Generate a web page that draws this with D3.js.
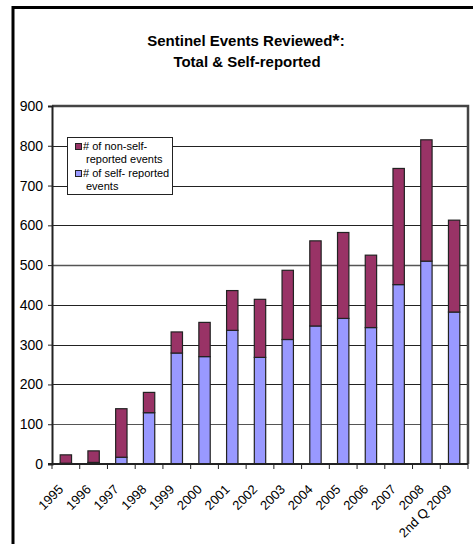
<!DOCTYPE html>
<html><head><meta charset="utf-8">
<script src="https://cdn.jsdelivr.net/npm/d3@7"></script>
<style>body{margin:0;background:#fff}svg{display:block}text{font-family:"Liberation Sans",Arial,sans-serif}</style>
</head><body>
<svg id="c" width="473" height="544"></svg>
<script>
const categories = ["1995","1996","1997","1998","1999","2000","2001","2002","2003","2004","2005","2006","2007","2008","2nd Q 2009"];
const selfReported = [2,4,17,129,279,270,336,268,313,347,366,343,451,510,382];
const totals = [23,33,139,180,332,356,436,414,487,561,582,525,743,815,613];
const nonSelfReported = totals.map((t,i)=>t-selfReported[i]);
const yTicks = [0,100,200,300,400,500,600,700,800,900];

const FONT = "'Liberation Sans',Arial,sans-serif";
const svg = d3.select("#c");
const m = {l:52, r:468, t:106, b:464};
const x = d3.scaleBand().domain(categories).range([m.l, m.r]).paddingInner(0.59).paddingOuter(0.295);
const xb = d3.scaleBand().domain(categories).range([m.l, m.r]);
const y = d3.scaleLinear().domain([0,900]).range([m.b, m.t]);

// outer frame
svg.append("path").attr("d","M13,544 L13,7.5 L473,7.5").attr("fill","none").attr("stroke","#000").attr("stroke-width",3);

// title
const t1 = svg.append("text").attr("x",246).attr("y",46).attr("text-anchor","middle").attr("font-size",15).attr("font-weight","bold").attr("font-family",FONT);
t1.append("tspan").text("Sentinel Events Reviewed");
t1.append("tspan").attr("font-size",19).attr("dy",1).text("*");
t1.append("tspan").attr("dy",-1).text(":");
svg.append("text").attr("x",247).attr("y",67).attr("text-anchor","middle").attr("font-size",15).attr("font-weight","bold").attr("font-family",FONT).text("Total & Self-reported");

// gridlines
svg.append("g").selectAll("line").data(yTicks.filter(d=>d>0 && d<900)).join("line")
  .attr("x1",m.l).attr("x2",m.r).attr("y1",d=>Math.round(y(d))+0.5).attr("y2",d=>Math.round(y(d))+0.5)
  .attr("stroke",d=>d===500||d===100?"#555":"#222").attr("stroke-width",d=>d===500?1.5:1);

// plot border top & right
svg.append("path").attr("d",`M${m.l},${m.t} L${m.r},${m.t} L${m.r},${m.b}`).attr("fill","none").attr("stroke","#444").attr("stroke-width",2.5);

// bars
const stackData = categories.map((c,i)=>({c, s:selfReported[i], n:nonSelfReported[i]}));
const g = svg.append("g");
g.selectAll("rect.s").data(stackData).join("rect").attr("class","s")
  .attr("x",d=>x(d.c)).attr("width",x.bandwidth())
  .attr("y",d=>y(d.s)).attr("height",d=>y(0)-y(d.s))
  .attr("fill","#9999FF").attr("stroke","#222").attr("stroke-width",1.2);
g.selectAll("rect.n").data(stackData).join("rect").attr("class","n")
  .attr("x",d=>x(d.c)).attr("width",x.bandwidth())
  .attr("y",d=>y(d.s+d.n)).attr("height",d=>y(d.s)-y(d.s+d.n))
  .attr("fill","#993366").attr("stroke","#222").attr("stroke-width",1.2);

// y axis
const ya = svg.append("g").attr("transform",`translate(${m.l},0)`)
  .call(d3.axisLeft(y).tickValues(yTicks).tickSize(4).tickPadding(5));
ya.select(".domain").attr("stroke","#222").attr("stroke-width",2);
ya.selectAll("text").attr("font-size",14).attr("fill","#000").attr("font-family",FONT);
ya.selectAll(".tick line").attr("stroke","#222");

// x axis
const xa = svg.append("g").attr("transform",`translate(0,${m.b})`);
xa.append("line").attr("x1",m.l-4).attr("x2",m.r).attr("y1",0).attr("y2",0).attr("stroke","#222").attr("stroke-width",2);
const boundaries = categories.map(c=>xb(c)).concat([m.r]);
xa.selectAll("line.t").data(boundaries).join("line").attr("class","t")
  .attr("x1",d=>d).attr("x2",d=>d).attr("y1",0).attr("y2",5).attr("stroke","#222");
xa.selectAll("text").data(categories).join("text")
  .attr("transform",d=>`translate(${xb(d)+xb.bandwidth()/2-5},${23}) rotate(-45)`)
  .attr("text-anchor","end").attr("font-size",13).attr("font-family",FONT).attr("dy","0.35em").text(d=>d);

// legend
const lg = svg.append("g");
lg.append("rect").attr("x",67.5).attr("y",137.5).attr("width",105).attr("height",57).attr("fill","#fff").attr("stroke","#222");
const legendColors = ["#993366","#9999FF"];
const legendLines = [["# of non-self-","reported events"],["# of self- reported","events"]];
legendLines.forEach((lines,i)=>{
  const yy = 143 + i*27;
  lg.append("rect").attr("x",75.5).attr("y",yy+0.5).attr("width",6).attr("height",6).attr("fill",legendColors[i]).attr("stroke","#222");
  lines.forEach((t,j)=>{
    lg.append("text").attr("x",j===0?83:86).attr("y",yy+7+j*13).attr("font-size",11).attr("font-family",FONT).text(t);
  });
});
</script>
</body></html>
